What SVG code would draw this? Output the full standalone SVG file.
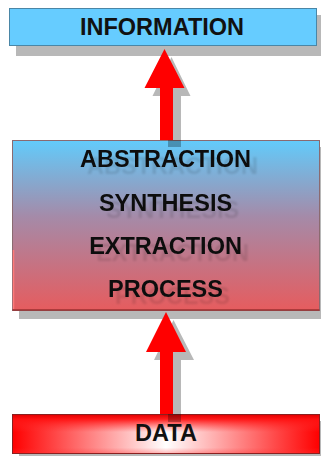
<svg xmlns="http://www.w3.org/2000/svg" width="321" height="456" viewBox="0 0 321 456">
<defs>
<linearGradient id="midGrad" x1="0" y1="0" x2="0" y2="1">
<stop offset="0" stop-color="#62cbfb"/>
<stop offset="0.45" stop-color="#a58aa8"/>
<stop offset="1" stop-color="#e65c5e"/>
</linearGradient>
<linearGradient id="dataH" x1="0" y1="0" x2="1" y2="0">
<stop offset="0" stop-color="#ff0000"/>
<stop offset="0.5" stop-color="#ffffff"/>
<stop offset="1" stop-color="#ff0000"/>
</linearGradient>
<linearGradient id="dataV" x1="0" y1="0" x2="0" y2="1">
<stop offset="0" stop-color="#e00000" stop-opacity="1"/>
<stop offset="0.12" stop-color="#ff1010" stop-opacity="0.95"/>
<stop offset="0.45" stop-color="#ff3030" stop-opacity="0"/>
<stop offset="0.85" stop-color="#ff3030" stop-opacity="0"/>
<stop offset="1" stop-color="#ff3030" stop-opacity="0.35"/>
</linearGradient>
<filter id="ghost" x="-10%" y="-50%" width="130%" height="200%">
<feOffset in="SourceAlpha" dx="7" dy="7" result="off"/>
<feGaussianBlur in="off" stdDeviation="0.8" result="blur"/>
<feComponentTransfer in="blur" result="faint">
<feFuncA type="linear" slope="0.12"/>
</feComponentTransfer>
<feMerge>
<feMergeNode in="faint"/>
<feMergeNode in="SourceGraphic"/>
</feMerge>
</filter>
</defs>
<style>
.shadow{fill:#000;fill-opacity:0.28}
.lbl{font-family:"Liberation Sans",Arial,sans-serif;font-weight:bold;font-size:23.5px;text-anchor:middle;fill:#111}
.arrow{fill:#ff0000}
</style>
<g id="information">
<rect class="shadow" x="16" y="15" width="308" height="41"/>
<rect x="9.5" y="8.5" width="307" height="37" fill="#66ccff" stroke="#4a86a6" stroke-width="1"/>
<text class="lbl" x="162" y="35">INFORMATION</text>
</g>
<g id="process">
<rect class="shadow" x="19" y="147" width="308" height="172"/>
<rect x="12.5" y="140.5" width="307" height="170" fill="url(#midGrad)" stroke="#8a6a70" stroke-width="1"/>
<line x1="13.5" y1="250" x2="13.5" y2="309" stroke="#ff7a7a" stroke-width="1.5"/>
<line x1="12.5" y1="310" x2="319.5" y2="310" stroke="#9a3030" stroke-width="1.5"/>
<g filter="url(#ghost)">
<text class="lbl" x="165.5" y="167">ABSTRACTION</text>
<text class="lbl" x="165.5" y="211">SYNTHESIS</text>
<text class="lbl" x="165.5" y="254">EXTRACTION</text>
<text class="lbl" x="165.5" y="297">PROCESS</text>
</g>
</g>
<g id="data">
<rect class="shadow" x="19" y="421" width="308" height="40"/>
<rect x="12.5" y="414.5" width="307" height="39" fill="url(#dataH)"/>
<rect x="12.5" y="414.5" width="307" height="39" fill="url(#dataV)" stroke="#8a2020" stroke-width="1"/>
<text class="lbl" x="166" y="441">DATA</text>
</g>
<g id="connectors">
<path class="shadow" d="M171.5,57 L190.5,96 L181,96 L181,147 L168,147 L168,96 L152.5,96 Z"/>
<path class="arrow" d="M164.5,49 L184.5,88 L173,88 L173,140 L160,140 L160,88 L144.5,88 Z"/>
<path class="shadow" d="M173.5,320 L194,360 L181,360 L181,422 L168,422 L168,360 L154,360 Z"/>
<path class="arrow" d="M166,312 L186,352 L173,352 L173,414 L160,414 L160,352 L146,352 Z"/>
</g>
</svg>
